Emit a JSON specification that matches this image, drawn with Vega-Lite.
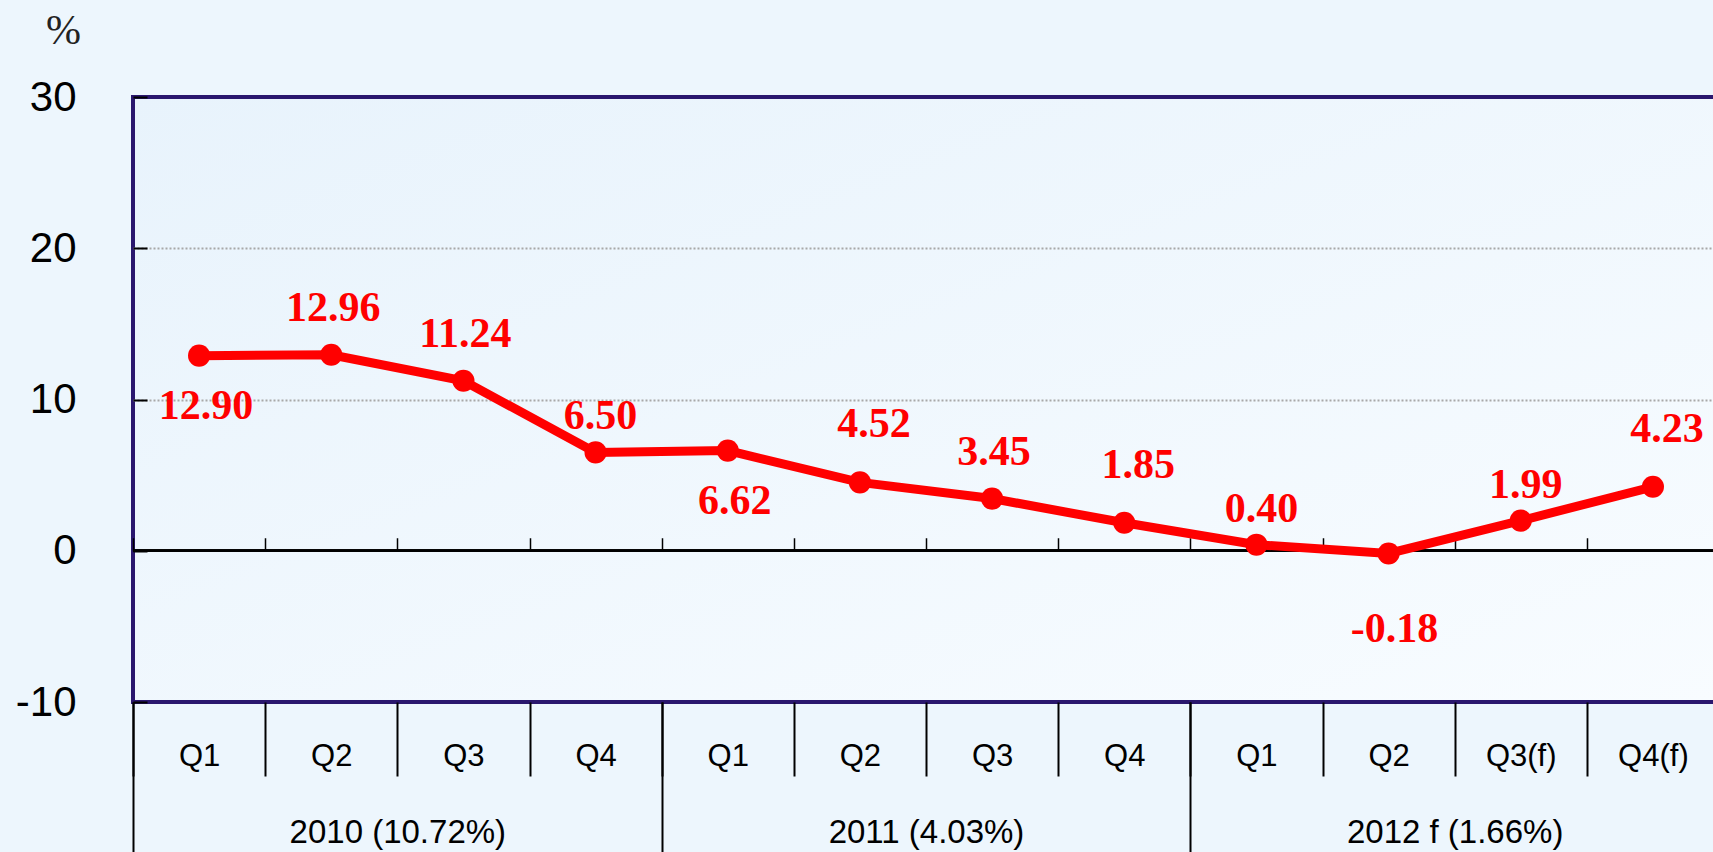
{
  "$schema": "https://vega.github.io/schema/vega-lite/v6.json",
  "width": 1586,
  "height": 605,
  "autosize": {"type": "none"},
  "padding": {"left": 133, "top": 97, "right": -6, "bottom": 150},
  "background": "#edf6fd",
  "config": {
    "view": {
      "fill": {"gradient": "linear", "x1": 0, "y1": 0, "x2": 1, "y2": 1, "stops": [{"offset": 0, "color": "#e8f3fc"}, {"offset": 1, "color": "#f8fcff"}]},
      "stroke": "#2a176e",
      "strokeWidth": 4
    }
  },
  "data": {
    "values": [
      {"period": "2010 Q1", "year": "2010 (10.72%)", "value": 12.90, "label": "12.90"},
      {"period": "2010 Q2", "year": "2010 (10.72%)", "value": 12.96, "label": "12.96"},
      {"period": "2010 Q3", "year": "2010 (10.72%)", "value": 11.24, "label": "11.24"},
      {"period": "2010 Q4", "year": "2010 (10.72%)", "value": 6.50, "label": "6.50"},
      {"period": "2011 Q1", "year": "2011 (4.03%)", "value": 6.62, "label": "6.62"},
      {"period": "2011 Q2", "year": "2011 (4.03%)", "value": 4.52, "label": "4.52"},
      {"period": "2011 Q3", "year": "2011 (4.03%)", "value": 3.45, "label": "3.45"},
      {"period": "2011 Q4", "year": "2011 (4.03%)", "value": 1.85, "label": "1.85"},
      {"period": "2012 Q1", "year": "2012 f (1.66%)", "value": 0.40, "label": "0.40"},
      {"period": "2012 Q2", "year": "2012 f (1.66%)", "value": -0.18, "label": "-0.18"},
      {"period": "2012 Q3(f)", "year": "2012 f (1.66%)", "value": 1.99, "label": "1.99"},
      {"period": "2012 Q4(f)", "year": "2012 f (1.66%)", "value": 4.23, "label": "4.23"}
    ]
  },
  "layer": [
    {
      "mark": {"type": "point", "opacity": 0},
      "encoding": {
        "x": {
          "field": "year", "type": "nominal", "sort": null,
          "scale": {"type": "band", "paddingInner": 0, "paddingOuter": 0},
          "axis": {
            "orient": "bottom", "title": null, "domain": false, "grid": false,
            "tickBand": "extent", "tickSize": 150, "tickWidth": 2, "tickColor": "#000000",
            "labelPadding": -36, "labelFont": "Liberation Sans", "labelFontSize": 33,
            "labelLimit": 0,
            "labelColor": "#000000", "labelBaseline": "top", "labelAngle": 0
          }
        }
      }
    },
    {
      "mark": {"type": "point", "opacity": 0},
      "encoding": {
        "x": {
          "field": "period", "type": "nominal", "sort": null,
          "scale": {"type": "band", "paddingInner": 0, "paddingOuter": 0},
          "axis": {
            "orient": "bottom", "offset": -151.25, "title": null, "domain": false,
            "labels": false, "grid": false, "tickBand": "extent", "tickSize": -13,
            "tickWidth": 1.5, "tickColor": "#000000"
          }
        }
      }
    },
    {
      "mark": {"type": "rule", "color": "#000000", "strokeWidth": 2},
      "encoding": {"y": {"datum": 0, "type": "quantitative"}}
    },
    {
      "encoding": {
        "x": {
          "field": "period", "type": "nominal", "sort": null,
          "scale": {"type": "band", "paddingInner": 0, "paddingOuter": 0},
          "axis": {
            "orient": "bottom", "title": null, "domain": false, "grid": false,
            "tickBand": "extent", "tickSize": 74, "tickWidth": 2, "tickColor": "#000000",
            "labelExpr": "split(datum.label, ' ')[1]",
            "labelPadding": -35, "labelFont": "Liberation Sans", "labelFontSize": 31,
            "labelColor": "#000000", "labelBaseline": "top", "labelAngle": 0
          }
        },
        "y": {
          "field": "value", "type": "quantitative",
          "scale": {"domain": [-10, 30], "nice": false, "zero": false},
          "axis": {
            "orient": "left", "values": [-10, 0, 10, 20, 30],
            "labelExpr": "datum.value < 0 ? '-' + abs(datum.value) : '' + datum.value",
            "title": "%", "titleAngle": 0, "titleX": -70, "titleY": -67,
            "titleAlign": "center", "titleBaseline": "middle",
            "titleFont": "Liberation Serif", "titleFontSize": 42, "titleFontWeight": "normal", "titleColor": "#222222",
            "labelFont": "Liberation Sans", "labelFontSize": 42, "labelColor": "#000000",
            "labelPadding": 71, "tickSize": -14, "tickWidth": 2, "tickColor": "#000000",
            "domain": false, "grid": true, "gridColor": "#a8a8a8", "gridDash": [2, 2], "gridWidth": 2,
            "gridOpacity": {"condition": {"test": "datum.value == 30 || datum.value == -10 || datum.value == 0", "value": 0}, "value": 1}
          }
        }
      },
      "layer": [
        {"mark": {"type": "line", "color": "#ff0000", "strokeWidth": 9}},
        {"mark": {"type": "circle", "color": "#ff0000", "size": 490, "opacity": 1}},
        {
          "transform": [{"filter": {"field": "period", "oneOf": ["2010 Q1", "2011 Q1"]}}],
          "mark": {"type": "text", "color": "#ff0000", "font": "Liberation Serif", "fontWeight": "bold", "fontSize": 42, "baseline": "middle", "dx": 7, "dy": 50},
          "encoding": {"text": {"field": "label"}}
        },
        {
          "transform": [{"filter": {"field": "period", "oneOf": ["2012 Q2"]}}],
          "mark": {"type": "text", "color": "#ff0000", "font": "Liberation Serif", "fontWeight": "bold", "fontSize": 42, "baseline": "middle", "dx": 6, "dy": 76},
          "encoding": {"text": {"field": "label"}}
        },
        {
          "transform": [{"filter": {"field": "period", "oneOf": ["2010 Q4", "2012 Q1", "2012 Q3(f)"]}}],
          "mark": {"type": "text", "color": "#ff0000", "font": "Liberation Serif", "fontWeight": "bold", "fontSize": 42, "baseline": "middle", "dx": 5, "dy": -36},
          "encoding": {"text": {"field": "label"}}
        },
        {
          "transform": [{"filter": {"field": "period", "oneOf": ["2010 Q2", "2010 Q3", "2011 Q3"]}}],
          "mark": {"type": "text", "color": "#ff0000", "font": "Liberation Serif", "fontWeight": "bold", "fontSize": 42, "baseline": "middle", "dx": 2, "dy": -47},
          "encoding": {"text": {"field": "label"}}
        },
        {
          "transform": [{"filter": {"field": "period", "oneOf": ["2011 Q2", "2011 Q4", "2012 Q4(f)"]}}],
          "mark": {"type": "text", "color": "#ff0000", "font": "Liberation Serif", "fontWeight": "bold", "fontSize": 42, "baseline": "middle", "dx": 14, "dy": -58},
          "encoding": {"text": {"field": "label"}}
        }
      ]
    }
  ],
  "resolve": {"scale": {"x": "independent"}, "axis": {"x": "independent"}}
}
